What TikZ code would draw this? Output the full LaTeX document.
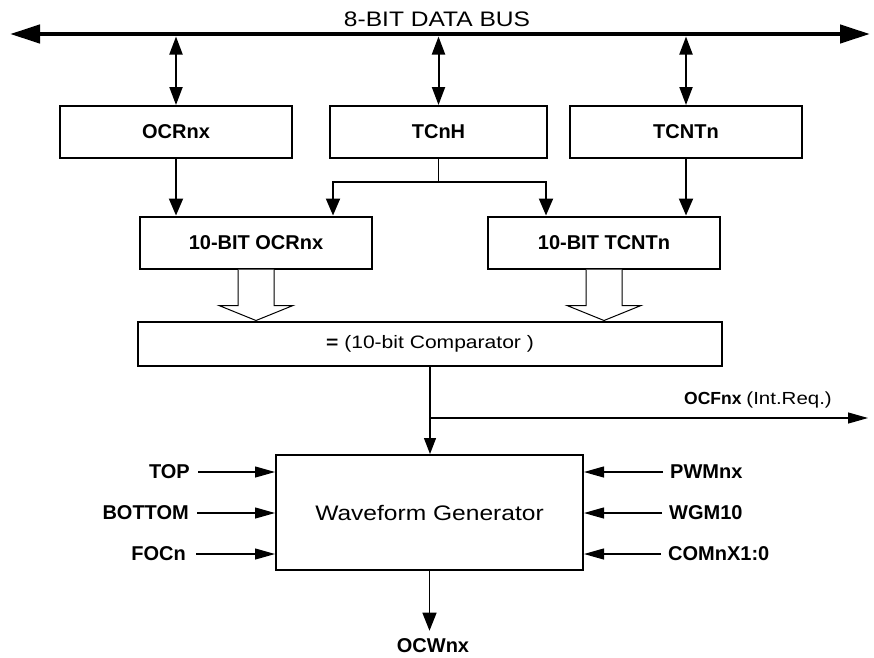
\documentclass[tikz,border=0pt]{standalone}
\usepackage{fontspec}
\setmainfont{Liberation Sans}
\newfontfamily\widefont[FakeStretch=1.17]{Liberation Sans}
\usetikzlibrary{arrows.meta,calc}
\newcommand\hollowarrow[1]{%
  \draw[hollow] ([xshift=-18pt]#1.south) -- ++(0,36) -- ++(-19,0) -- ++(37,15)
    -- ++(37,-15) -- ++(-19,0) -- ([xshift=18pt]#1.south);}
\begin{document}
\begin{tikzpicture}[x=1pt,y=-1pt,
  box/.style={draw, line width=2pt, inner sep=0pt, minimum height=52pt,
    font=\fontsize{20}{20}\selectfont\bfseries},
  lab/.style={inner sep=0pt, font=\fontsize{20}{20}\selectfont\bfseries},
  busline/.style={line width=4.5pt,
    {Triangle[length=30pt,width=18pt]}-{Triangle[length=30pt,width=18pt]}},
  dbl/.style={line width=2pt,
    {Triangle[length=18pt,width=13pt]}-{Triangle[length=18pt,width=13pt]}},
  arr/.style={line width=2pt, -{Triangle[length=17pt,width=14pt]}},
  thinarr/.style={line width=1.2pt, -{Triangle[length=16pt,width=12pt]}},
  inarr/.style={line width=1.1pt, -{Triangle[length=20pt,width=11pt]}},
  outarr/.style={line width=1.3pt, -{Triangle[length=18pt,width=14pt]}},
  hollow/.style={line width=1pt, fill=white}]
\useasboundingbox (0,0) rectangle (874,657);

% data bus
\coordinate (busL) at (10,34);
\coordinate (busR) at (870,34);
\draw[busline] (busL) -- (busR);
\node[inner sep=0pt, font=\widefont\fontsize{21}{21}\selectfont] (title) at (437,19) {8-BIT DATA BUS};

% registers
\node[box, minimum width=232pt] (ocr) at (176,132) {OCRnx};
\node[box, minimum width=217pt] (tch) at (438.5,132) {TCnH};
\node[box, minimum width=232pt] (tcnt) at (686,132) {TCNTn};
\node[box, minimum width=232pt] (ocr10) at (256,242.5) {10-BIT OCRnx};
\node[box, minimum width=232pt] (tcnt10) at (604,242.5) {10-BIT TCNTn};

% bus connections
\draw[dbl] ($(ocr.north |- busL)+(0,2.5)$) -- (ocr.north);
\draw[dbl] ($(tch.north |- busL)+(0,2.5)$) -- (tch.north);
\draw[dbl] ($(tcnt.north |- busL)+(0,2.5)$) -- (tcnt.north);

% register to 10-bit
\draw[arr] (ocr.south) -- (ocr.south |- ocr10.north);
\draw[arr] (tcnt.south) -- (tcnt.south |- tcnt10.north);
\coordinate (tj) at ($(tch.south)+(0,23)$);
\draw[line width=1.6pt] (tch.south) -- (tj);
\draw[arr] (tj) -| ([xshift=77pt]ocr10.north);
\draw[arr] (tj) -| ([xshift=-58pt]tcnt10.north);

% comparator
\node[box, minimum width=584pt, minimum height=44pt,
  font=\widefont\fontsize{18}{18}\selectfont] (comp) at (430,344)
  {{\bfseries =} (10-bit Comparator )};
\hollowarrow{ocr10}
\hollowarrow{tcnt10}

% waveform generator
\node[box, minimum width=307pt, minimum height=115pt,
  font=\widefont\fontsize{21}{21}\selectfont] (wg) at (429.5,512.5) {Waveform Generator};
\draw[thinarr] (comp.south) -- (comp.south |- wg.north);
\coordinate (oj) at ($(comp.south)+(0,51)$);
\coordinate (ocfend) at (868,0);
\draw[inarr] (oj) -- (oj -| ocfend);
\node[inner sep=0pt, font=\fontsize{17.5}{18}\selectfont] (ocf) at (758,400)
  {{\bfseries OCFnx} {\widefont\mdseries (Int.Req.)}};

% inputs
\node[lab, anchor=east] (tp) at (190,472) {TOP};
\node[lab, anchor=east] (bt) at (189,513) {BOTTOM};
\node[lab, anchor=east] (fo) at (186,554) {FOCn};
\node[lab, anchor=west] (pw) at (670,472) {PWMnx};
\node[lab, anchor=west] (wgm) at (669,513) {WGM10};
\node[lab, anchor=west] (com) at (668,554) {COMnX1:0};
\draw[inarr, shorten <=8pt] (tp.east) -- (tp.east -| wg.west);
\draw[inarr, shorten <=8pt] (bt.east) -- (bt.east -| wg.west);
\draw[inarr, shorten <=10pt] (fo.east) -- (fo.east -| wg.west);
\draw[inarr, shorten <=7pt] (pw.west) -- (pw.west -| wg.east);
\draw[inarr, shorten <=7pt] (wgm.west) -- (wgm.west -| wg.east);
\draw[inarr, shorten <=7pt] (com.west) -- (com.west -| wg.east);

% output
\node[lab] (ocw) at (433,646) {OCWnx};
\draw[outarr] (wg.south) -- ($(wg.south |- ocw.north)+(0,-8)$);
\end{tikzpicture}
\end{document}
